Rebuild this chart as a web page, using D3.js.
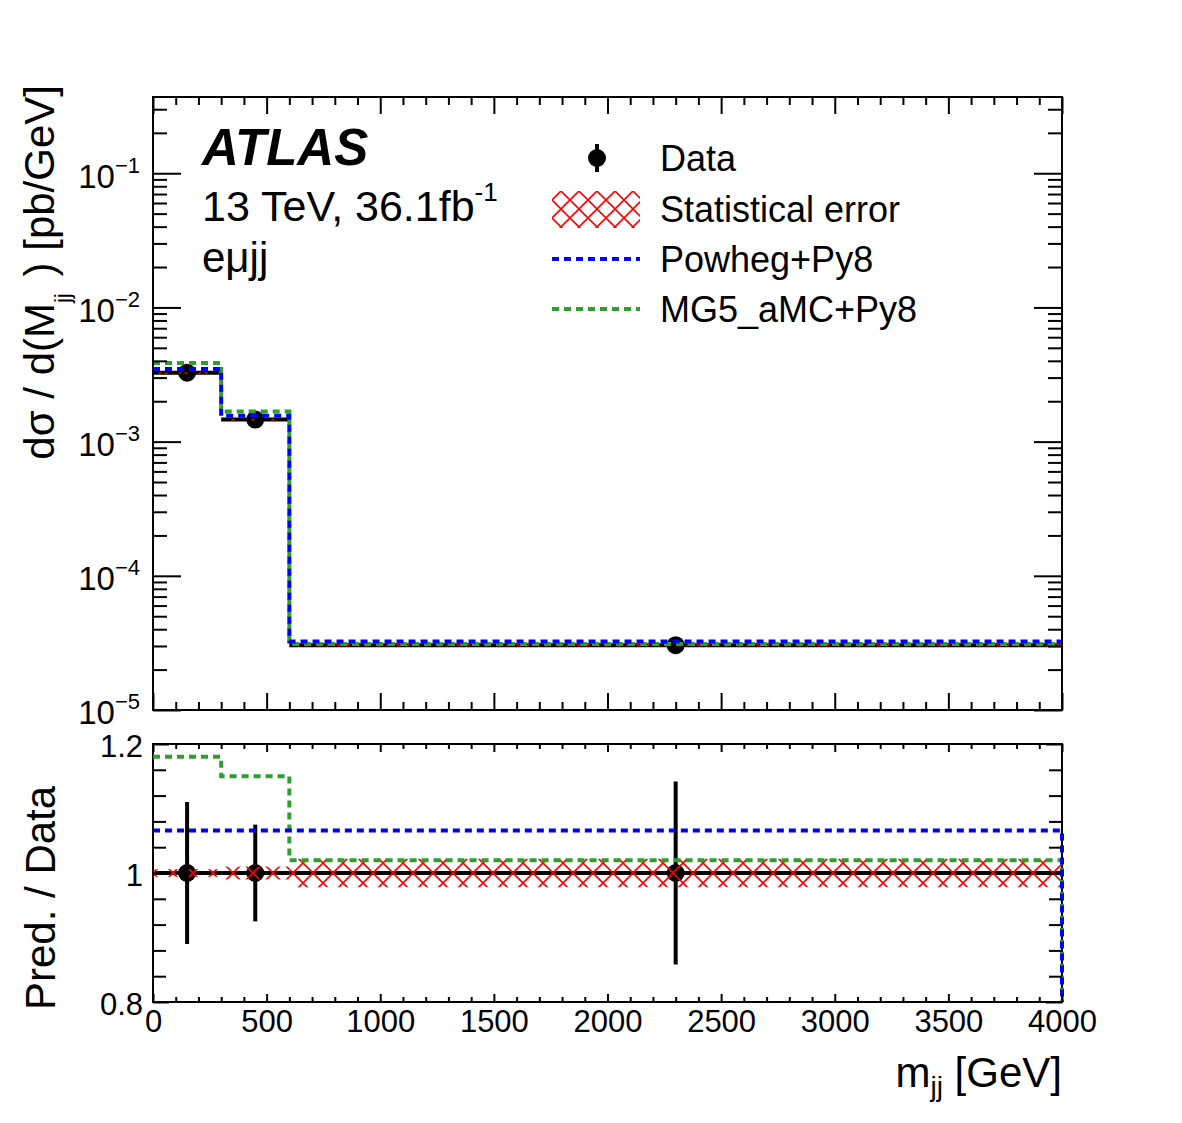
<!DOCTYPE html>
<html>
<head>
<meta charset="utf-8">
<script src="https://cdn.jsdelivr.net/npm/d3@7"></script>
<style>
  body { margin: 0; background: #fff; }
  text { font-family: "Liberation Sans", Arial, Helvetica, sans-serif; fill: #000; }
</style>
</head>
<body>
<svg id="chart" width="1182" height="1123"></svg>
<script>
// m_jj bins [GeV] and cross sections [pb/GeV]
const binEdges = [0, 300, 600, 4000];
const binCentres = [150, 450, 2300];
const dataXsec = [3.26e-3, 1.46e-3, 3.04e-5];
const dataRelErr = [0.11, 0.075, 0.142];
const statRelErr = [0.006, 0.010, 0.022];
const powhegXsec = [3.475e-3, 1.556e-3, 3.24e-5];
const mg5Xsec = [3.847e-3, 1.679e-3, 3.10e-5];

// axis ticks
const xMajorTicks = [0, 500, 1000, 1500, 2000, 2500, 3000, 3500, 4000];
const xMinorTicks = [100, 200, 300, 400, 600, 700, 800, 900, 1100, 1200, 1300, 1400, 1600, 1700, 1800, 1900,
  2100, 2200, 2300, 2400, 2600, 2700, 2800, 2900, 3100, 3200, 3300, 3400, 3600, 3700, 3800, 3900];
const yDecades = [-5, -4, -3, -2, -1];
const yMinorMantissas = [2, 3, 4, 5, 6, 7, 8, 9];
const ratioMajorTicks = [0.8, 1, 1.2];
const ratioMinorTicks = [0.84, 0.88, 0.92, 0.96, 1.04, 1.08, 1.12, 1.16];

const legendLabels = ["Data", "Statistical error", "Powheg+Py8", "MG5_aMC+Py8"];

const BLUE = "#0000ff", GREEN = "#2e9e2e", RED = "#ff0000";

const left = 153, right = 1062;
const mainTop = 97, mainBottom = 710;
const ratioTop = 744, ratioBottom = 1002;

const svg = d3.select("#chart");

const x = d3.scaleLinear().domain([0, 4000]).range([left, right]);
const y = d3.scaleLog().domain([1e-5, 0.37]).range([mainBottom, mainTop]);
const r = d3.scaleLinear().domain([0.8, 1.2]).range([ratioBottom, ratioTop]);

const yMax = y.domain()[1];
const yMinor = [];
yDecades.forEach(e => yMinorMantissas.forEach(m => {
  const v = m * Math.pow(10, e);
  if (v < yMax) yMinor.push(v);
}));

// hatch patterns
const defs = svg.append("defs");
function hatch(id, p, ox, oy) {
  const pat = defs.append("pattern")
    .attr("id", id)
    .attr("patternUnits", "userSpaceOnUse")
    .attr("width", p).attr("height", p)
    .attr("patternTransform", `translate(${ox},${oy})`);
  pat.append("path")
    .attr("d", `M0,0L${p},${p}M${p},0L0,${p}M${-p/2},${p/2}L0,${p}M${p/2},${-p/2}L${p},0`)
    .attr("stroke", RED).attr("stroke-width", 1.6).attr("fill", "none");
}
hatch("hatchMain", 20, 13, 0);
hatch("hatchRatio", 20, 13, r(1));
hatch("hatchLegend", 18, 561, 209);

function clip(id, y0, y1) {
  defs.append("clipPath").attr("id", id)
    .append("rect")
    .attr("x", left - 4).attr("y", y0)
    .attr("width", right - left + 8).attr("height", y1 - y0);
}
clip("clipMain", mainTop, mainBottom);
clip("clipRatio", ratioTop, ratioBottom);

const bins = d3.range(dataXsec.length);

function stepPath(values, ys, yBottom) {
  const pts = [];
  values.forEach((v, i) => {
    pts.push([x(binEdges[i]), ys(v)], [x(binEdges[i + 1]), ys(v)]);
  });
  if (yBottom != null) pts.push([x(binEdges[binEdges.length - 1]), yBottom]);
  return d3.line()(pts);
}

function ticks(g, axisGen) {
  g.call(axisGen);
  g.select(".domain").remove();
  g.selectAll(".tick line").attr("stroke", "#000").attr("stroke-width", 2);
  g.attr("font-family", null).attr("font-size", 31);
  return g;
}

function drawContent(g, ys, dataVals) {
  // data x-error bars
  g.selectAll(".xerr").data(bins).enter().append("line")
    .attr("x1", i => x(binEdges[i])).attr("x2", i => x(binEdges[i + 1]))
    .attr("y1", i => ys(dataVals[i])).attr("y2", i => ys(dataVals[i]))
    .attr("stroke", "#000").attr("stroke-width", 4);
  // data y-error bars
  g.selectAll(".yerr").data(bins).enter().append("line")
    .attr("x1", i => x(binCentres[i])).attr("x2", i => x(binCentres[i]))
    .attr("y1", i => ys(dataVals[i] * (1 + dataRelErr[i])))
    .attr("y2", i => ys(dataVals[i] * (1 - dataRelErr[i])))
    .attr("stroke", "#000").attr("stroke-width", 4);
  g.selectAll(".pt").data(bins).enter().append("circle")
    .attr("cx", i => x(binCentres[i])).attr("cy", i => ys(dataVals[i]))
    .attr("r", 9).attr("fill", "#000");
  return g;
}

function drawStat(g, ys, dataVals, patId) {
  g.selectAll(".stat").data(bins).enter().append("rect")
    .attr("x", i => x(binEdges[i]))
    .attr("width", i => x(binEdges[i + 1]) - x(binEdges[i]))
    .attr("y", i => ys(dataVals[i] * (1 + statRelErr[i])))
    .attr("height", i => Math.max(ys(dataVals[i] * (1 - statRelErr[i])) - ys(dataVals[i] * (1 + statRelErr[i])), 1.5))
    .attr("fill", `url(#${patId})`);
}

function drawMC(g, ys, powVals, mgVals, yBottom) {
  g.append("path").attr("d", stepPath(mgVals, ys, yBottom))
    .attr("fill", "none").attr("stroke", GREEN).attr("stroke-width", 4)
    .attr("stroke-dasharray", "7,5");
  g.append("path").attr("d", stepPath(powVals, ys, yBottom))
    .attr("fill", "none").attr("stroke", BLUE).attr("stroke-width", 4)
    .attr("stroke-dasharray", "7,5");
}

// ---------- upper panel ----------
const main = svg.append("g").attr("clip-path", "url(#clipMain)");
drawContent(main, y, dataXsec);
drawStat(main, y, dataXsec, "hatchMain");
drawMC(main, y, powhegXsec, mg5Xsec, null);

svg.append("rect")
  .attr("x", left).attr("y", mainTop)
  .attr("width", right - left).attr("height", mainBottom - mainTop)
  .attr("fill", "none").attr("stroke", "#000").attr("stroke-width", 2);

ticks(svg.append("g").attr("transform", `translate(0,${mainBottom})`),
  d3.axisBottom(x).tickValues(xMajorTicks).tickSize(-17).tickFormat(""));
ticks(svg.append("g").attr("transform", `translate(0,${mainBottom})`),
  d3.axisBottom(x).tickValues(xMinorTicks).tickSize(-8).tickFormat(""));
ticks(svg.append("g").attr("transform", `translate(0,${mainTop})`),
  d3.axisTop(x).tickValues(xMajorTicks).tickSize(-17).tickFormat(""));
ticks(svg.append("g").attr("transform", `translate(0,${mainTop})`),
  d3.axisTop(x).tickValues(xMinorTicks).tickSize(-8).tickFormat(""));

const yLab = ticks(svg.append("g").attr("transform", `translate(${left},0)`),
  d3.axisLeft(y).tickValues(yDecades.map(e => Math.pow(10, e))).tickSize(-28).tickPadding(13));
yLab.attr("font-size", 33);
yLab.selectAll(".tick text").each(function (d) {
  const t = d3.select(this).text(null).attr("dy", "0.42em");
  const e = Math.round(Math.log10(d));
  t.append("tspan").text("10");
  t.append("tspan").attr("dy", -15).attr("font-size", 22).text("\u2212" + Math.abs(e));
});
ticks(svg.append("g").attr("transform", `translate(${left},0)`),
  d3.axisLeft(y).tickValues(yMinor).tickSize(-14).tickFormat(""));
ticks(svg.append("g").attr("transform", `translate(${right},0)`),
  d3.axisRight(y).tickValues(yDecades.map(e => Math.pow(10, e))).tickSize(-28).tickFormat(""));
ticks(svg.append("g").attr("transform", `translate(${right},0)`),
  d3.axisRight(y).tickValues(yMinor).tickSize(-14).tickFormat(""));

// ---------- ratio panel ----------
svg.append("rect")
  .attr("x", left).attr("y", ratioTop)
  .attr("width", right - left).attr("height", ratioBottom - ratioTop)
  .attr("fill", "none").attr("stroke", "#000").attr("stroke-width", 2);

const ratioData = bins.map(() => 1);
const ratioPow = powhegXsec.map((v, i) => v / dataXsec[i]);
const ratioMg = mg5Xsec.map((v, i) => v / dataXsec[i]);

const ratio = svg.append("g").attr("clip-path", "url(#clipRatio)");
drawContent(ratio, r, ratioData);
drawStat(ratio, r, ratioData, "hatchRatio");
drawMC(ratio, r, ratioPow, ratioMg, ratioBottom);

ticks(svg.append("g").attr("transform", `translate(0,${ratioBottom})`),
  d3.axisBottom(x).tickValues(xMajorTicks).tickSize(-8).tickPadding(8).tickFormat(d3.format("d")));
ticks(svg.append("g").attr("transform", `translate(0,${ratioBottom})`),
  d3.axisBottom(x).tickValues(xMinorTicks).tickSize(-5).tickFormat(""));
ticks(svg.append("g").attr("transform", `translate(0,${ratioTop})`),
  d3.axisTop(x).tickValues(xMajorTicks).tickSize(-8).tickFormat(""));
ticks(svg.append("g").attr("transform", `translate(0,${ratioTop})`),
  d3.axisTop(x).tickValues(xMinorTicks).tickSize(-5).tickFormat(""));

ticks(svg.append("g").attr("transform", `translate(${left},0)`),
  d3.axisLeft(r).tickValues(ratioMajorTicks).tickSize(-16).tickPadding(10)
    .tickFormat(d => d === 1 ? "1" : d3.format(".1f")(d)))
  .selectAll(".tick text").attr("dy", "0.4em");
ticks(svg.append("g").attr("transform", `translate(${left},0)`),
  d3.axisLeft(r).tickValues(ratioMinorTicks).tickSize(-13).tickFormat(""));
ticks(svg.append("g").attr("transform", `translate(${right},0)`),
  d3.axisRight(r).tickValues(ratioMajorTicks).tickSize(-16).tickFormat(""));
ticks(svg.append("g").attr("transform", `translate(${right},0)`),
  d3.axisRight(r).tickValues(ratioMinorTicks).tickSize(-13).tickFormat(""));

// ---------- axis titles ----------
const yTitle = svg.append("text")
  .attr("transform", "translate(54,85) rotate(-90)")
  .attr("text-anchor", "end").attr("font-size", 42);
yTitle.append("tspan").text("d\u03c3 / d(M");
yTitle.append("tspan").attr("dy", 16).attr("font-size", 22).text("jj");
yTitle.append("tspan").attr("dy", -16).text("\u2009\u2009) [pb/GeV]");

svg.append("text")
  .attr("transform", "translate(55,1010) rotate(-90)")
  .attr("font-size", 42).text("Pred. / Data");

const xTitle = svg.append("text")
  .attr("x", right).attr("y", 1087)
  .attr("text-anchor", "end").attr("font-size", 42);
xTitle.append("tspan").text("m");
xTitle.append("tspan").attr("dy", 9).attr("font-size", 28).text("jj");
xTitle.append("tspan").attr("dy", -9).text(" [GeV]");

// ---------- ATLAS label ----------
svg.append("text").attr("x", 202).attr("y", 165)
  .attr("font-size", 51).attr("font-weight", "bold").attr("font-style", "italic")
  .text("ATLAS");
const lumi = svg.append("text").attr("x", 202).attr("y", 221).attr("font-size", 43);
lumi.append("tspan").text("13 TeV, 36.1fb");
lumi.append("tspan").attr("dy", -20).attr("font-size", 26).text("-1");
svg.append("text").attr("x", 202).attr("y", 272).attr("font-size", 42).text("e\u03bcjj");

// ---------- legend ----------
const legY = [158, 209, 259, 309];
const leg = svg.append("g");
leg.append("line").attr("x1", 597).attr("x2", 597)
  .attr("y1", legY[0] - 14).attr("y2", legY[0] + 14)
  .attr("stroke", "#000").attr("stroke-width", 4);
leg.append("circle").attr("cx", 597).attr("cy", legY[0]).attr("r", 9).attr("fill", "#000");
leg.append("rect").attr("x", 552).attr("y", legY[1] - 18).attr("width", 88).attr("height", 37)
  .attr("fill", "url(#hatchLegend)");
[[BLUE, legY[2]], [GREEN, legY[3]]].forEach(([c, yy]) => {
  leg.append("line").attr("x1", 552).attr("x2", 640).attr("y1", yy).attr("y2", yy)
    .attr("stroke", c).attr("stroke-width", 4).attr("stroke-dasharray", "7,5");
});
leg.selectAll(".lab").data(legendLabels).enter().append("text")
  .attr("x", 660).attr("y", (d, i) => legY[i] + 13)
  .attr("font-size", 36).text(d => d);
</script>
</body>
</html>
